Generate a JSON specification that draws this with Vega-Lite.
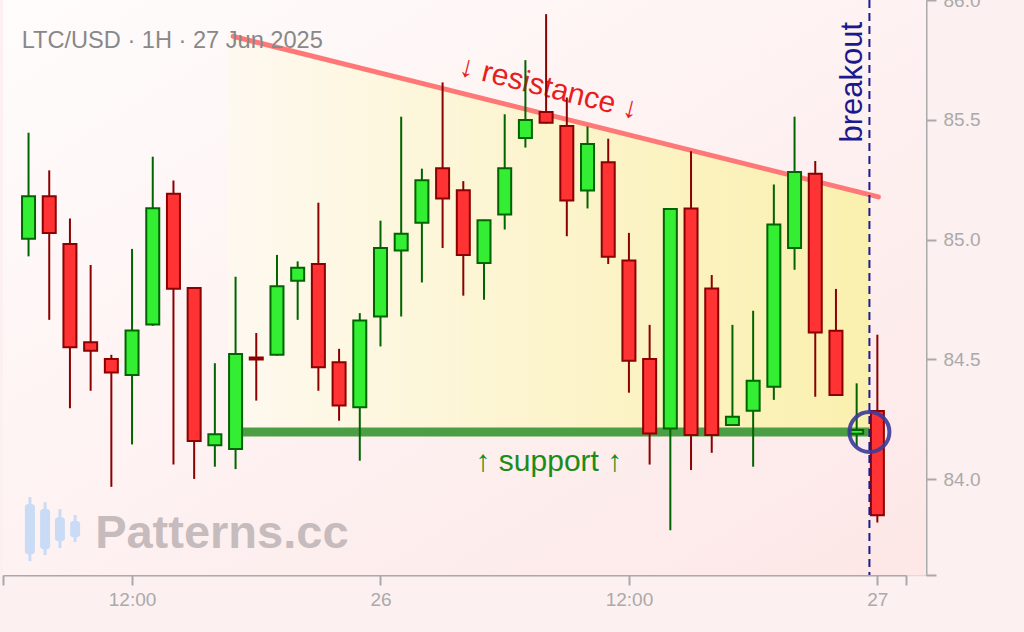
{
  "$schema": "https://vega.github.io/schema/vega-lite/v6.json",
  "width": 923,
  "height": 575,
  "autosize": {"type": "none"},
  "padding": {"left": 3, "top": 0, "right": 98, "bottom": 57},
  "background": "#fdf0f0",
  "config": {"view": {"stroke": null}, "font": "Liberation Sans"},
  "datasets": {
    "candles": [
      {"t": "2025-06-25T07:00:00Z", "open": 85.004, "high": 85.446, "low": 84.930, "close": 85.181},
      {"t": "2025-06-25T08:00:00Z", "open": 85.181, "high": 85.289, "low": 84.665, "close": 85.028},
      {"t": "2025-06-25T09:00:00Z", "open": 84.982, "high": 85.088, "low": 84.296, "close": 84.551},
      {"t": "2025-06-25T10:00:00Z", "open": 84.572, "high": 84.894, "low": 84.369, "close": 84.536},
      {"t": "2025-06-25T11:00:00Z", "open": 84.502, "high": 84.519, "low": 83.968, "close": 84.445},
      {"t": "2025-06-25T12:00:00Z", "open": 84.435, "high": 84.961, "low": 84.145, "close": 84.621},
      {"t": "2025-06-25T13:00:00Z", "open": 84.646, "high": 85.346, "low": 84.640, "close": 85.131},
      {"t": "2025-06-25T14:00:00Z", "open": 85.191, "high": 85.247, "low": 84.061, "close": 84.795},
      {"t": "2025-06-25T15:00:00Z", "open": 84.798, "high": 84.800, "low": 84.001, "close": 84.159},
      {"t": "2025-06-25T16:00:00Z", "open": 84.142, "high": 84.484, "low": 84.052, "close": 84.187},
      {"t": "2025-06-25T17:00:00Z", "open": 84.126, "high": 84.845, "low": 84.042, "close": 84.522},
      {"t": "2025-06-25T18:00:00Z", "open": 84.508, "high": 84.610, "low": 84.328, "close": 84.500},
      {"t": "2025-06-25T19:00:00Z", "open": 84.519, "high": 84.936, "low": 84.515, "close": 84.805},
      {"t": "2025-06-25T20:00:00Z", "open": 84.828, "high": 84.909, "low": 84.665, "close": 84.882},
      {"t": "2025-06-25T21:00:00Z", "open": 84.898, "high": 85.154, "low": 84.369, "close": 84.467},
      {"t": "2025-06-25T22:00:00Z", "open": 84.488, "high": 84.544, "low": 84.244, "close": 84.308},
      {"t": "2025-06-25T23:00:00Z", "open": 84.300, "high": 84.693, "low": 84.077, "close": 84.662},
      {"t": "2025-06-26T00:00:00Z", "open": 84.679, "high": 85.079, "low": 84.554, "close": 84.965},
      {"t": "2025-06-26T01:00:00Z", "open": 84.954, "high": 85.513, "low": 84.679, "close": 85.024},
      {"t": "2025-06-26T02:00:00Z", "open": 85.070, "high": 85.296, "low": 84.821, "close": 85.248},
      {"t": "2025-06-26T03:00:00Z", "open": 85.298, "high": 85.656, "low": 84.965, "close": 85.172},
      {"t": "2025-06-26T04:00:00Z", "open": 85.206, "high": 85.244, "low": 84.766, "close": 84.936},
      {"t": "2025-06-26T05:00:00Z", "open": 84.902, "high": 85.083, "low": 84.749, "close": 85.081},
      {"t": "2025-06-26T06:00:00Z", "open": 85.105, "high": 85.523, "low": 85.042, "close": 85.298},
      {"t": "2025-06-26T07:00:00Z", "open": 85.424, "high": 85.749, "low": 85.384, "close": 85.499},
      {"t": "2025-06-26T08:00:00Z", "open": 85.533, "high": 85.941, "low": 85.485, "close": 85.488},
      {"t": "2025-06-26T09:00:00Z", "open": 85.474, "high": 85.593, "low": 85.014, "close": 85.163},
      {"t": "2025-06-26T10:00:00Z", "open": 85.205, "high": 85.472, "low": 85.130, "close": 85.399},
      {"t": "2025-06-26T11:00:00Z", "open": 85.323, "high": 85.421, "low": 84.898, "close": 84.928},
      {"t": "2025-06-26T12:00:00Z", "open": 84.913, "high": 85.028, "low": 84.361, "close": 84.494},
      {"t": "2025-06-26T13:00:00Z", "open": 84.502, "high": 84.644, "low": 84.061, "close": 84.191},
      {"t": "2025-06-26T14:00:00Z", "open": 84.212, "high": 85.132, "low": 83.787, "close": 85.128},
      {"t": "2025-06-26T15:00:00Z", "open": 85.130, "high": 85.369, "low": 84.038, "close": 84.184},
      {"t": "2025-06-26T16:00:00Z", "open": 84.796, "high": 84.852, "low": 84.110, "close": 84.184},
      {"t": "2025-06-26T17:00:00Z", "open": 84.226, "high": 84.644, "low": 84.224, "close": 84.261},
      {"t": "2025-06-26T18:00:00Z", "open": 84.286, "high": 84.703, "low": 84.052, "close": 84.411},
      {"t": "2025-06-26T19:00:00Z", "open": 84.386, "high": 85.230, "low": 84.331, "close": 85.063},
      {"t": "2025-06-26T20:00:00Z", "open": 84.965, "high": 85.513, "low": 84.874, "close": 85.282},
      {"t": "2025-06-26T21:00:00Z", "open": 85.275, "high": 85.328, "low": 84.344, "close": 84.612},
      {"t": "2025-06-26T22:00:00Z", "open": 84.619, "high": 84.794, "low": 84.347, "close": 84.351},
      {"t": "2025-06-26T23:00:00Z", "open": 84.190, "high": 84.400, "low": 84.138, "close": 84.205},
      {"t": "2025-06-27T00:00:00Z", "open": 84.285, "high": 84.603, "low": 83.819, "close": 83.849}
    ],
    "icon": [
      {"t": "2025-06-25T07:04:00Z", "low": 83.658, "high": 83.925, "bottom": 83.687, "top": 83.896},
      {"t": "2025-06-25T07:48:00Z", "low": 83.683, "high": 83.904, "bottom": 83.708, "top": 83.875},
      {"t": "2025-06-25T08:31:00Z", "low": 83.712, "high": 83.875, "bottom": 83.741, "top": 83.841},
      {"t": "2025-06-25T09:15:00Z", "low": 83.737, "high": 83.850, "bottom": 83.758, "top": 83.825}
    ]
  },
  "layer": [
    {
      "data": {"values": [{}]},
      "mark": {
        "type": "rect",
        "color": {"gradient": "linear", "x1": 0, "y1": 0, "x2": 1, "y2": 1,
          "stops": [{"offset": 0, "color": "#fffcfc"}, {"offset": 1, "color": "#fde7e7"}]}
      },
      "encoding": {
        "x": {"value": 0},
        "x2": {"value": "width"},
        "y": {"value": 0},
        "y2": {"value": "height"}
      }
    },
    {
      "data": {"values": [
        {"t": "2025-06-25T16:38:00Z", "upper": 85.853, "lower": 84.197},
        {"t": "2025-06-26T23:37:00Z", "upper": 85.185, "lower": 84.197}
      ]},
      "mark": {
        "type": "area",
        "color": {"gradient": "linear", "x1": 0, "y1": 0, "x2": 1, "y2": 0,
          "stops": [{"offset": 0, "color": "#fef9f0"}, {"offset": 0.5, "color": "#fcf4cc"}, {"offset": 1, "color": "#faf0ae"}]}
      },
      "encoding": {
        "x": {
          "field": "t", "type": "temporal", "title": null,
          "scale": {
            "type": "utc",
            "domain": [
              {"year": 2025, "month": 6, "date": 25, "hours": 5, "minutes": 46, "utc": true},
              {"year": 2025, "month": 6, "date": 27, "hours": 1, "minutes": 23, "utc": true}
            ],
            "range": [0, 903],
            "padding": 0
          },
          "axis": {
            "orient": "bottom",
            "grid": false,
            "values": [
              {"year": 2025, "month": 6, "date": 25, "hours": 5, "minutes": 46, "utc": true},
              {"year": 2025, "month": 6, "date": 25, "hours": 12, "utc": true},
              {"year": 2025, "month": 6, "date": 26, "hours": 0, "utc": true},
              {"year": 2025, "month": 6, "date": 26, "hours": 12, "utc": true},
              {"year": 2025, "month": 6, "date": 27, "hours": 0, "utc": true},
              {"year": 2025, "month": 6, "date": 27, "hours": 1, "minutes": 23, "utc": true}
            ],
            "labelExpr": "utcFormat(datum.value, '%M') != '00' ? '' : (utcFormat(datum.value, '%H') == '00' ? utcFormat(datum.value, '%d') : utcFormat(datum.value, '%H:%M'))",
            "labelFlush": false,
            "labelOverlap": false,
            "domainColor": "#aaaaaa",
            "domainWidth": 2,
            "tickColor": "#aaaaaa",
            "tickWidth": 2,
            "tickSize": 10,
            "labelColor": "#aaaaaa",
            "labelFontSize": 19,
            "labelPadding": 5
          }
        },
        "y": {
          "field": "upper", "type": "quantitative", "title": null,
          "scale": {"domain": [83.6, 86.0], "zero": false, "nice": false, "padding": 0},
          "axis": {
            "orient": "right",
            "values": [83.6, 84.0, 84.5, 85.0, 85.5, 86.0],
            "labelExpr": "datum.value < 83.7 ? '' : format(datum.value, '.1f')",
            "labelFlush": false,
            "labelOverlap": false,
            "grid": true,
            "gridColor": "#e2dada",
            "gridWidth": 1.5,
            "domainColor": "#aaaaaa",
            "domainWidth": 2,
            "tickColor": "#aaaaaa",
            "tickWidth": 2,
            "tickSize": 10,
            "labelColor": "#aaaaaa",
            "labelFontSize": 19,
            "labelPadding": 7
          }
        },
        "y2": {"field": "lower"}
      }
    },
    {
      "data": {"values": [{"start": "2025-06-25T17:00:00Z", "end": "2025-06-26T23:37:00Z", "level": 84.197}]},
      "mark": {"type": "rule", "strokeWidth": 9, "color": "#4c9e44", "strokeCap": "butt"},
      "encoding": {
        "x": {"field": "start", "type": "temporal", "title": null},
        "x2": {"field": "end"},
        "y": {"field": "level", "type": "quantitative", "title": null}
      }
    },
    {
      "data": {"values": [
        {"t": "2025-06-25T16:53:00Z", "price": 85.848},
        {"t": "2025-06-27T00:03:00Z", "price": 85.178}
      ]},
      "mark": {"type": "line", "strokeWidth": 5, "color": "#ff7878", "strokeCap": "round"},
      "encoding": {
        "x": {"field": "t", "type": "temporal", "title": null},
        "y": {"field": "price", "type": "quantitative", "title": null}
      }
    },
    {
      "data": {"values": [{"t": "2025-06-25T06:40:00Z", "price": 85.798, "label": "LTC/USD · 1H · 27 Jun 2025"}]},
      "mark": {"type": "text", "align": "left", "baseline": "alphabetic", "fontSize": 23.6, "color": "#888888"},
      "encoding": {
        "x": {"field": "t", "type": "temporal", "title": null},
        "y": {"field": "price", "type": "quantitative", "title": null},
        "text": {"field": "label"}
      }
    },
    {
      "data": {"values": [{"t": "2025-06-26T08:08:00Z", "price": 85.632, "label": "↓ resistance ↓"}]},
      "mark": {"type": "text", "align": "center", "baseline": "middle", "fontSize": 30, "angle": 14, "color": "#e61e1e"},
      "encoding": {
        "x": {"field": "t", "type": "temporal", "title": null},
        "y": {"field": "price", "type": "quantitative", "title": null},
        "text": {"field": "label"}
      }
    },
    {
      "data": {"values": [{"t": "2025-06-26T08:08:00Z", "price": 84.071, "label": "↑ support ↑"}]},
      "mark": {"type": "text", "align": "center", "baseline": "middle", "fontSize": 30, "color": "#1a8c1a"},
      "encoding": {
        "x": {"field": "t", "type": "temporal", "title": null},
        "y": {"field": "price", "type": "quantitative", "title": null},
        "text": {"field": "label"}
      }
    },
    {
      "data": {"values": [{"t": "2025-06-25T10:13:00Z", "price": 83.711, "label": "Patterns.cc"}]},
      "mark": {"type": "text", "align": "left", "baseline": "alphabetic", "fontSize": 47, "fontWeight": "bold", "color": "#c6bcbd"},
      "encoding": {
        "x": {"field": "t", "type": "temporal", "title": null},
        "y": {"field": "price", "type": "quantitative", "title": null},
        "text": {"field": "label"}
      }
    },
    {
      "data": {"name": "icon"},
      "mark": {"type": "rule", "strokeWidth": 3, "color": "#cadcf5"},
      "encoding": {
        "x": {"field": "t", "type": "temporal", "title": null},
        "y": {"field": "low", "type": "quantitative", "title": null},
        "y2": {"field": "high"}
      }
    },
    {
      "data": {"name": "icon"},
      "mark": {"type": "bar", "size": 10, "color": "#cadcf5", "cornerRadius": 3},
      "encoding": {
        "x": {"field": "t", "type": "temporal", "title": null},
        "y": {"field": "bottom", "type": "quantitative", "title": null},
        "y2": {"field": "top"}
      }
    },
    {
      "data": {"name": "candles"},
      "mark": {"type": "rule", "strokeWidth": 2},
      "encoding": {
        "x": {"field": "t", "type": "temporal", "title": null},
        "y": {"field": "low", "type": "quantitative", "title": null},
        "y2": {"field": "high"},
        "stroke": {"condition": {"test": "datum.close >= datum.open", "value": "#006400"}, "value": "#8b0000"}
      }
    },
    {
      "data": {"name": "candles"},
      "mark": {"type": "bar", "size": 13, "strokeWidth": 2},
      "encoding": {
        "x": {"field": "t", "type": "temporal", "title": null},
        "y": {"field": "open", "type": "quantitative", "title": null},
        "y2": {"field": "close"},
        "fill": {"condition": {"test": "datum.close >= datum.open", "value": "#33ee33"}, "value": "#ff3333"},
        "stroke": {"condition": {"test": "datum.close >= datum.open", "value": "#006400"}, "value": "#8b0000"}
      }
    },
    {
      "data": {"values": [{"t": "2025-06-26T23:37:00Z"}]},
      "mark": {"type": "rule", "strokeWidth": 2, "strokeDash": [8, 5], "color": "#1c1c8f"},
      "encoding": {
        "x": {"field": "t", "type": "temporal", "title": null}
      }
    },
    {
      "data": {"values": [{"t": "2025-06-26T23:16:00Z", "price": 85.657, "label": "breakout"}]},
      "mark": {"type": "text", "align": "center", "baseline": "alphabetic", "fontSize": 31, "angle": 270, "color": "#1a1a8c"},
      "encoding": {
        "x": {"field": "t", "type": "temporal", "title": null},
        "y": {"field": "price", "type": "quantitative", "title": null},
        "text": {"field": "label"}
      }
    },
    {
      "data": {"values": [{"t": "2025-06-26T23:37:00Z", "price": 84.197}]},
      "mark": {"type": "point", "shape": "circle", "filled": false, "size": 1600, "strokeWidth": 4, "color": "#3b3b99", "opacity": 0.9},
      "encoding": {
        "x": {"field": "t", "type": "temporal", "title": null},
        "y": {"field": "price", "type": "quantitative", "title": null}
      }
    }
  ]
}
